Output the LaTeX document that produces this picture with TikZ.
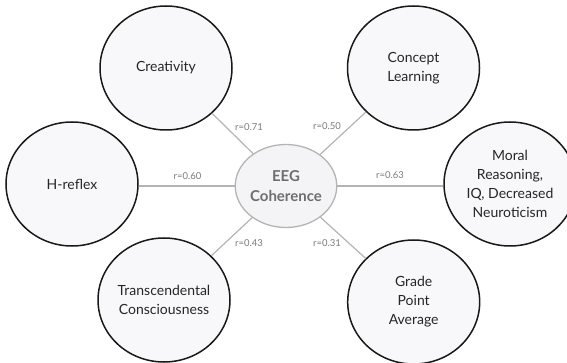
\documentclass[tikz,border=0pt]{standalone}
\usepackage{fontspec}
\setmainfont{Lato}
\usetikzlibrary{shapes.geometric}
\definecolor{outerfill}{HTML}{F8F8FA}
\definecolor{innerfill}{HTML}{F4F4F6}
\definecolor{edgegray}{HTML}{B4B4B4}
\definecolor{txt}{HTML}{262626}
\definecolor{ctxt}{HTML}{6E6E6E}
\definecolor{lbl}{HTML}{7A7A7A}
\tikzset{
  outer/.style={ellipse, draw=black!90, line width=1.5pt, fill=outerfill,
    minimum width=132pt, minimum height=124pt, inner sep=0pt,
    align=center, text=txt, font=\fontsize{14}{19}\selectfont},
  inner/.style={ellipse, draw=edgegray, line width=1.3pt, fill=innerfill,
    minimum width=88pt, minimum height=83pt, inner sep=0pt,
    align=center, text=ctxt, font=\fontsize{15}{20}\selectfont\bfseries},
  link/.style={draw=edgegray, line width=1.2pt},
  rlab/.style={text=lbl, font=\fontsize{9.5}{10}\selectfont, inner sep=0pt}
}
\begin{document}
\begin{tikzpicture}[x=1pt, y=-1pt]
\useasboundingbox (0,0) rectangle (567,363);
\begin{scope}
\clip (0,0) rectangle (567,363);
\node[inner] (c) at (286,186) {EEG\\Coherence};
\node[outer] (cre) at (166,68) {Creativity};
\node[outer] (con) at (413.5,68) {Concept\\Learning};
\node[outer] (hre) at (72,184) {H-reflex};
\node[outer] (mor) at (510,184) {Moral\\Reasoning,\\IQ, Decreased\\Neuroticism};
\node[outer] (tra) at (164,300) {Transcendental\\Consciousness};
\node[outer] (gpa) at (413.7,302) {Grade\\Point\\Average};
\draw[link] (c) -- (cre);
\draw[link] (c) -- (con);
\draw[link] (c.west) -- (c.west -| hre.east);
\draw[link] (c.east) -- (c.east -| mor.west);
\draw[link] (c) -- (tra);
\draw[link] (c) -- (gpa);
\end{scope}
\node[rlab] (l1) at (249,127) {r=0.71};
\node[rlab] (l2) at (327,126) {r=0.50};
\node[rlab] (l3) at (187.5,176) {r=0.60};
\node[rlab] (l4) at (390,175.5) {r=0.63};
\node[rlab] (l5) at (249,243.5) {r=0.43};
\node[rlab] (l6) at (327,243.5) {r=0.31};
\end{tikzpicture}
\end{document}
